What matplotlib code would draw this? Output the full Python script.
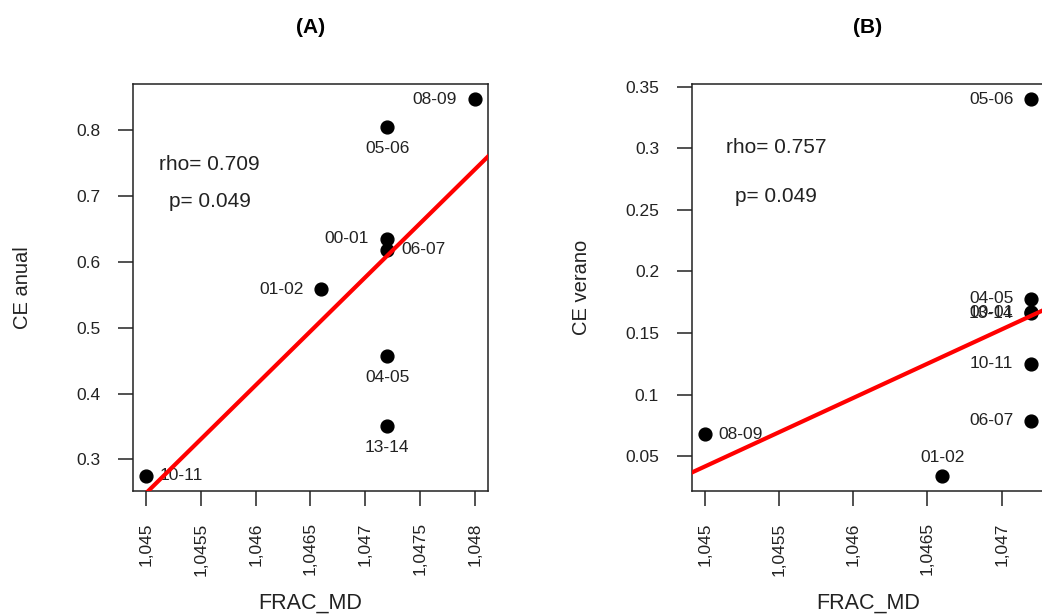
import numpy as np
import matplotlib
matplotlib.use('Agg')
import matplotlib.pyplot as plt

plt.rcParams['font.family'] = ['Liberation Sans', 'DejaVu Sans']

# Panel A : CE anual vs FRAC_MD
years_a = ['10-11', '08-09', '05-06', '00-01', '06-07', '01-02', '04-05', '13-14']
frac_a = [1.0450, 1.0480, 1.0472, 1.0472, 1.0472, 1.0466, 1.0472, 1.0472]
ce_anual = [0.275, 0.847, 0.805, 0.635, 0.618, 0.558, 0.457, 0.351]
side_a = ['right', 'left', 'below', 'left', 'right', 'left', 'below', 'below']

# Panel B : CE verano vs FRAC_MD
years_b = ['05-06', '04-05', '00-01', '13-14', '10-11', '06-07', '08-09', '01-02']
frac_b = [1.0472, 1.0472, 1.0472, 1.0472, 1.0472, 1.0472, 1.0450, 1.0466]
ce_verano = [0.340, 0.178, 0.167, 0.166, 0.125, 0.079, 0.068, 0.034]
side_b = ['left', 'left', 'left', 'left', 'left', 'left', 'right', 'above']

stats_a = ('rho= 0.709', 'p= 0.049')
stats_b = ('rho= 0.757', 'p= 0.049')

# décalage des étiquettes (points) selon le côté
offsets = {
    'left': ((-13, 0), 'right', 'center'),
    'right': ((10, 0), 'left', 'center'),
    'below': ((0, -10), 'center', 'top'),
    'above': ((0, 8), 'center', 'bottom'),
}


def r_limits(values):
    lo, hi = min(values), max(values)
    pad = 0.04 * (hi - lo)
    return lo - pad, hi + pad


def panel(ax, x, y, labels, sides, title, ylabel, yticks, stats, stats_pos):
    ax.scatter(x, y, s=85, color='black', zorder=3)
    for xi, yi, lab, side in zip(x, y, labels, sides):
        off, ha, va = offsets[side]
        ax.annotate(lab, (xi, yi), xytext=off, textcoords='offset points',
                    ha=ha, va=va, fontsize=12.5, color='#222222')

    # droite de régression
    slope, inter = np.polyfit(x, y, 1)
    ax.axline((x[0], inter + slope * x[0]), slope=slope, color='red', lw=3, zorder=4)

    xlo, xhi = r_limits(x)
    xt = [v for v in np.arange(1.045, 1.04801, 0.0005) if v <= xhi]
    ax.set_xticks(xt)
    ax.set_xticklabels(['{:g}'.format(v).replace('.', ',') for v in xt], rotation=90)
    ax.set_yticks(yticks)
    ax.set_yticklabels(['{:g}'.format(v) for v in yticks])
    ax.set_xlim(xlo, xhi)
    ax.set_ylim(*r_limits(y))

    ax.tick_params(axis='both', direction='out', length=10.5, width=1.1,
                   labelsize=12.5, colors='#222222')
    ax.tick_params(axis='x', pad=12)
    ax.tick_params(axis='y', pad=13)
    for sp in ax.spines.values():
        sp.set_linewidth(1.1)
        sp.set_color('#222222')

    ax.set_xlabel('FRAC_MD', fontsize=15.5, color='#222222')
    ax.xaxis.set_label_coords(0.5, -0.25)
    ax.set_ylabel(ylabel, fontsize=14.5, color='#222222')
    ax.yaxis.set_label_coords(-0.285, 0.5)
    ax.set_title(title, fontsize=15, fontweight='bold', pad=37)

    (sx, sy_rho, sy_p) = stats_pos
    ax.text(sx, sy_rho, stats[0], fontsize=15, ha='center', va='center', color='#222222')
    ax.text(sx, sy_p, stats[1], fontsize=15, ha='center', va='center', color='#222222')


fig = plt.figure(figsize=(10.42, 6.14), dpi=100)
ax_a = fig.add_axes([0.1276, 0.2003, 0.3407, 0.6629])
ax_b = fig.add_axes([0.6638, 0.2003, 0.3385, 0.6629])

panel(ax_a, frac_a, ce_anual, years_a, side_a, '(A)', 'CE anual',
      [0.3, 0.4, 0.5, 0.6, 0.7, 0.8], stats_a, (1.04558, 0.747, 0.691))
panel(ax_b, frac_b, ce_verano, years_b, side_b, '(B)', 'CE verano',
      [0.05, 0.1, 0.15, 0.2, 0.25, 0.3, 0.35], stats_b, (1.04548, 0.3005, 0.2605))

fig.savefig('out.png', dpi=100)
